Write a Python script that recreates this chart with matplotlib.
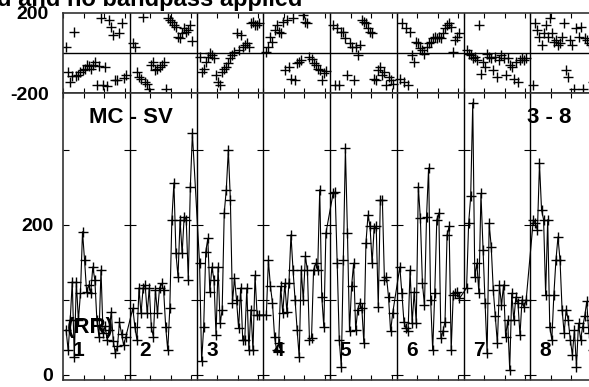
"""Amplitude and phase vs channel for baseline MC - SV, IFs 1-8."""
import matplotlib
matplotlib.use("Agg")
import matplotlib.pyplot as plt
import numpy as np

plt.rcParams["font.family"] = ["Liberation Sans", "DejaVu Sans"]
plt.rcParams["font.weight"] = "bold"

TITLE = "d and no bandpass applied"
BASELINE = "MC - SV"
IF_RANGE = "3 - 8"
STOKES = "(RR)"
IF_LABELS = ["1", "2", "3", "4", "5", "6", "7", "8"]
N_CHAN = 30
IF_WIDTH = 32.5
CHAN_TICKS = [0, 10, 20, 30]

AMP_TICKS = [0, 100, 200, 300]
AMP_TICKLABELS = ["0", "", "200", ""]
PHASE_TICKS = [-200, 200]
PHASE_TICKLABELS = ["-200", "200"]

# amplitude per IF (30 channels each)
amp_if1 = [60, 33, 73, 124, 24, 124, 73, 109, 191, 153, 111, 120, 109, 144, 127,
           73, 51, 140, 56, 65, 47, 60, 84, 45, 29, 38, 70, 55, 40, 50]
amp_if2 = [89, 64, 47, 116, 82, 116, 120, 82, 116, 64, 51, 113, 82, 116, 122,
           113, 64, 33, 89, 207, 256, 162, 131, 207, 162, 211, 207, 127, 251, 322]
amp_if3 = [149, 18, 64, 164, 182, 111, 144, 127, 53, 144, 69, 87, 216, 247, 300,
           233, 96, 129, 100, 62, 116, 47, 47, 116, 33, 87, 33, 133, 80, 80]
amp_if4 = [80, 153, 118, 96, 51, 33, 42, 118, 82, 122, 84, 122, 187, 140, 100,
           60, 24, 140, 100, 158, 140, 47, 49, 140, 149, 140, 247, 104, 64, 189]
amp_if5 = [242, 244, 149, 47, 11, 153, 302, 189, 58, 118, 149, 60, 87, 96, 89,
           42, 176, 213, 198, 149, 196, 198, 91, 233, 233, 127, 131, 104, 58, 82]
amp_if6 = [144, 109, 71, 62, 58, 140, 69, 111, 69, 251, 209, 122, 93, 211, 276,
           100, 33, 109, 207, 216, 49, 58, 71, 187, 198, 33, 107, 109, 110, 102]
amp_if7 = [116, 202, 238, 363, 131, 149, 109, 242, 167, 96, 29, 202, 171, 113, 78,
           42, 120, 93, 120, 51, 73, 7, 109, 73, 104, 96, 53, 100, 90, 100]
amp_if8 = [207, 202, 193, 282, 220, 207, 107, 207, 64, 47, 107, 153, 184, 153, 87,
           56, 87, 73, 47, 27, 60, 11, 69, 47, 64, 78, 98, 56, 73, 33]

# phase per IF (degrees)
phase_if1 = [30, -95, -145, -117, 105, -117, -112, -95, -87, -78, -62, -67, -78, -62, -45,
             -162, -67, 172, -162, -70, -167, 163, 130, 88, -133, -137, 97, 150, -125, -110]
phase_if2 = [47, 30, -95, -120, -128, 180, -145, -153, -178, -62, -45, -87, -78, -70, -62,
             -45, -178, 172, 163, 155, 138, 130, 80, 72, 97, 122, 105, 113, 140, 60]
phase_if3 = [-20, -95, -78, -45, -20, -3, -12, -28, -112, -145, -162, -95, -78, -70, -53,
             -28, -12, 5, 97, 13, 88, 30, 38, 47, 30, 147, 155, 138, 140, 150]
phase_if4 = [3, 30, 80, 55, 113, 138, 105, 97, 155, -87, 163, -70, -128, 172, -137,
             -53, -45, -37, 188, 155, 147, -20, -30, -53, -60, -78, -87, -137, -100, -90]
phase_if5 = [138, -162, 122, -162, 105, 105, 72, -112, 47, 30, -137, 30, -12, 38, 163,
             155, 147, 122, 105, 97, -128, -137, -87, -70, -112, -95, -162, -120, -137, -153]
phase_if6 = [-128, 147, -145, 122, -162, 105, -12, -45, 55, 47, 22, 13, -5, 30, 47,
             55, 72, 80, 72, 80, 72, 97, 122, 138, 147, 130, 3, 63, 80, 97]
phase_if7 = [13, -5, -12, -28, -20, -37, 138, -103, -45, -70, -5, -20, -28, -87, -20,
             -120, -37, -12, -28, -112, -28, -62, -70, -128, -45, -145, -37, -28, -37, -28]
phase_if8 = [-162, 147, 113, 80, 38, 97, 138, 80, 172, 97, 55, 63, 38, 47, 80,
             147, -87, -120, 63, 38, -178, 122, 80, 130, -178, 72, 63, 47, 38, -145]

amps = [amp_if1, amp_if2, amp_if3, amp_if4, amp_if5, amp_if6, amp_if7, amp_if8]
phases = [phase_if1, phase_if2, phase_if3, phase_if4,
          phase_if5, phase_if6, phase_if7, phase_if8]

W, H = 589, 387
fig = plt.figure(figsize=(W / 100, H / 100), dpi=100)
ax_ph = fig.add_axes([63 / W, 1 - 93 / H, 534 / W, 80.3 / H])
ax_amp = fig.add_axes([63 / W, 1 - 380 / H, 534 / W, 287 / H])

n_if = len(amps)
chan = np.arange(N_CHAN) + 1.5
x_all = np.concatenate([k * IF_WIDTH + chan for k in range(n_if)])
amp_all = np.concatenate(amps)
ph_all = np.concatenate(phases)

mk = dict(color="black", marker="+", ms=7.5, mew=1.0)
ax_amp.plot(x_all, amp_all, lw=0.8, **mk)
ax_ph.plot(x_all, ph_all, ls="none", **mk)

seps = [k * IF_WIDTH for k in range(1, n_if)]
xticks = [k * IF_WIDTH + t for k in range(n_if) for t in CHAN_TICKS]
for ax in (ax_ph, ax_amp):
    ax.set_xlim(0, n_if * IF_WIDTH)
    for s in seps:
        ax.axvline(s, color="black", lw=1)
    ax.set_xticks(xticks)
    ax.tick_params(axis="x", direction="in", top=True, bottom=True,
                   length=3.6, width=0.8, labelbottom=False)
    for sp in ax.spines.values():
        sp.set_linewidth(1.2)
        sp.set_color("#333333")

ax_ph.set_ylim(-200, 200)
ax_ph.axhline(0, color="black", lw=1)
ax_ph.set_yticks(PHASE_TICKS)
ax_ph.set_yticklabels(PHASE_TICKLABELS)
ax_ph.tick_params(axis="y", length=0, pad=10, labelsize=14)

ax_amp.set_ylim(-6.7, 376)
ax_amp.set_yticks(AMP_TICKS)
ax_amp.set_yticklabels(AMP_TICKLABELS)
ax_amp.tick_params(axis="y", direction="in", length=4.5, width=0.8,
                   pad=7, labelsize=14)
# crossing ticks on each IF separator
for s in seps:
    ax_amp.plot([s] * len(AMP_TICKS), AMP_TICKS, ls="none", marker="_",
                ms=9, mew=0.8, color="black", clip_on=False)

for k, lab in enumerate(IF_LABELS):
    ax_amp.text(k * IF_WIDTH + 7.5, 32, lab, fontsize=15, ha="center", va="center")
ax_amp.text(2, 63, STOKES, fontsize=16, ha="left", va="center")
ax_amp.text(0.128, 0.913, BASELINE, transform=ax_amp.transAxes,
            fontsize=16, ha="center", va="center")
ax_amp.text(0.910, 0.913, IF_RANGE, transform=ax_amp.transAxes,
            fontsize=16, ha="center", va="center")

fig.text(302 / W, 1 - 6 / H, TITLE, fontsize=17, ha="right", va="baseline")

fig.savefig("out.png", dpi=100)
plt.close(fig)
